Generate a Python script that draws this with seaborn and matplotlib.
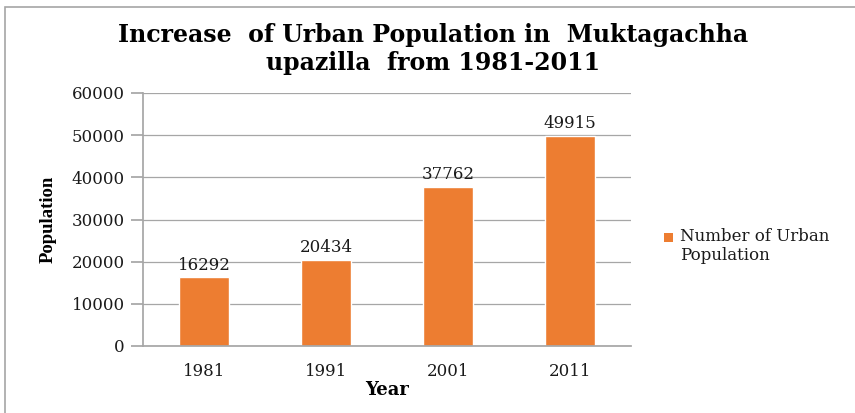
import pandas as pd
import seaborn as sns
import matplotlib.pyplot as plt
from matplotlib.patches import Rectangle

sns.set_theme(style="whitegrid")
plt.rcParams['font.family'] = ['DejaVu Serif', 'Liberation Serif']

YEARS = ['1981', '1991', '2001', '2011']
POPULATION = [16292, 20434, 37762, 49915]
BAR_COLOR = '#ED7D31'
SERIES_NAME = 'Number of Urban\nPopulation'

df = pd.DataFrame({'Year': YEARS, 'Population': POPULATION})

fig = plt.figure(figsize=(8.55, 4.13), dpi=100)
ax = fig.add_axes([143 / 855, 1 - 346 / 413, (631 - 143) / 855, (346 - 93) / 413])

sns.barplot(data=df, x='Year', y='Population', color=BAR_COLOR, width=0.41,
            saturation=1, ax=ax)

ax.set_ylim(0, 60000)
ax.set_yticks(range(0, 60001, 10000))
ax.set_xlim(-0.5, 3.5)

# value labels above the bars
for i, v in enumerate(POPULATION):
    ax.text(i, v + 900, str(v), ha='center', va='bottom', fontsize=12, color='#1a1a1a')

ax.grid(axis='y', color='#a6a6a6', linewidth=0.9)
ax.grid(axis='x', visible=False)
for side in ['top', 'right']:
    ax.spines[side].set_visible(False)
ax.spines['left'].set_color('#a6a6a6')
ax.spines['bottom'].set_color('#a6a6a6')
ax.tick_params(axis='y', left=True, length=9, color='#a6a6a6', labelsize=12,
               labelcolor='#1a1a1a', pad=4)
ax.tick_params(axis='x', bottom=False, labelsize=12, labelcolor='#1a1a1a', pad=6)

ax.set_xlabel('Year', fontsize=13, fontweight='bold', labelpad=1, color='black')
ax.set_ylabel('Population', fontsize=13.5, fontweight='bold', labelpad=11,
              family=['Liberation Serif'], color='black')

fig.text(0.506, 1 - 35 / 413, 'Increase  of Urban Population in  Muktagachha',
         ha='center', va='center', fontsize=17, fontweight='bold', color='black')
fig.text(0.506, 1 - 63 / 413, 'upazilla  from 1981-2011',
         ha='center', va='center', fontsize=17, fontweight='bold', color='black')

# legend: marker aligned with first text line
fig.patches.append(Rectangle((664 / 855, 1 - 242 / 413), 9 / 855, 9 / 413,
                             transform=fig.transFigure, facecolor=BAR_COLOR,
                             edgecolor='none'))
fig.text(680 / 855, 1 - 228 / 413, SERIES_NAME, ha='left', va='top',
         fontsize=12, color='#1a1a1a', linespacing=1.15)

# outer chart border
fig.patches.append(Rectangle((5 / 855, -0.1), 2, 1 - 7 / 413 + 0.1,
                             transform=fig.transFigure, fill=False,
                             edgecolor='#a6a6a6', linewidth=1.2))

fig.savefig('out.png', dpi=100)
